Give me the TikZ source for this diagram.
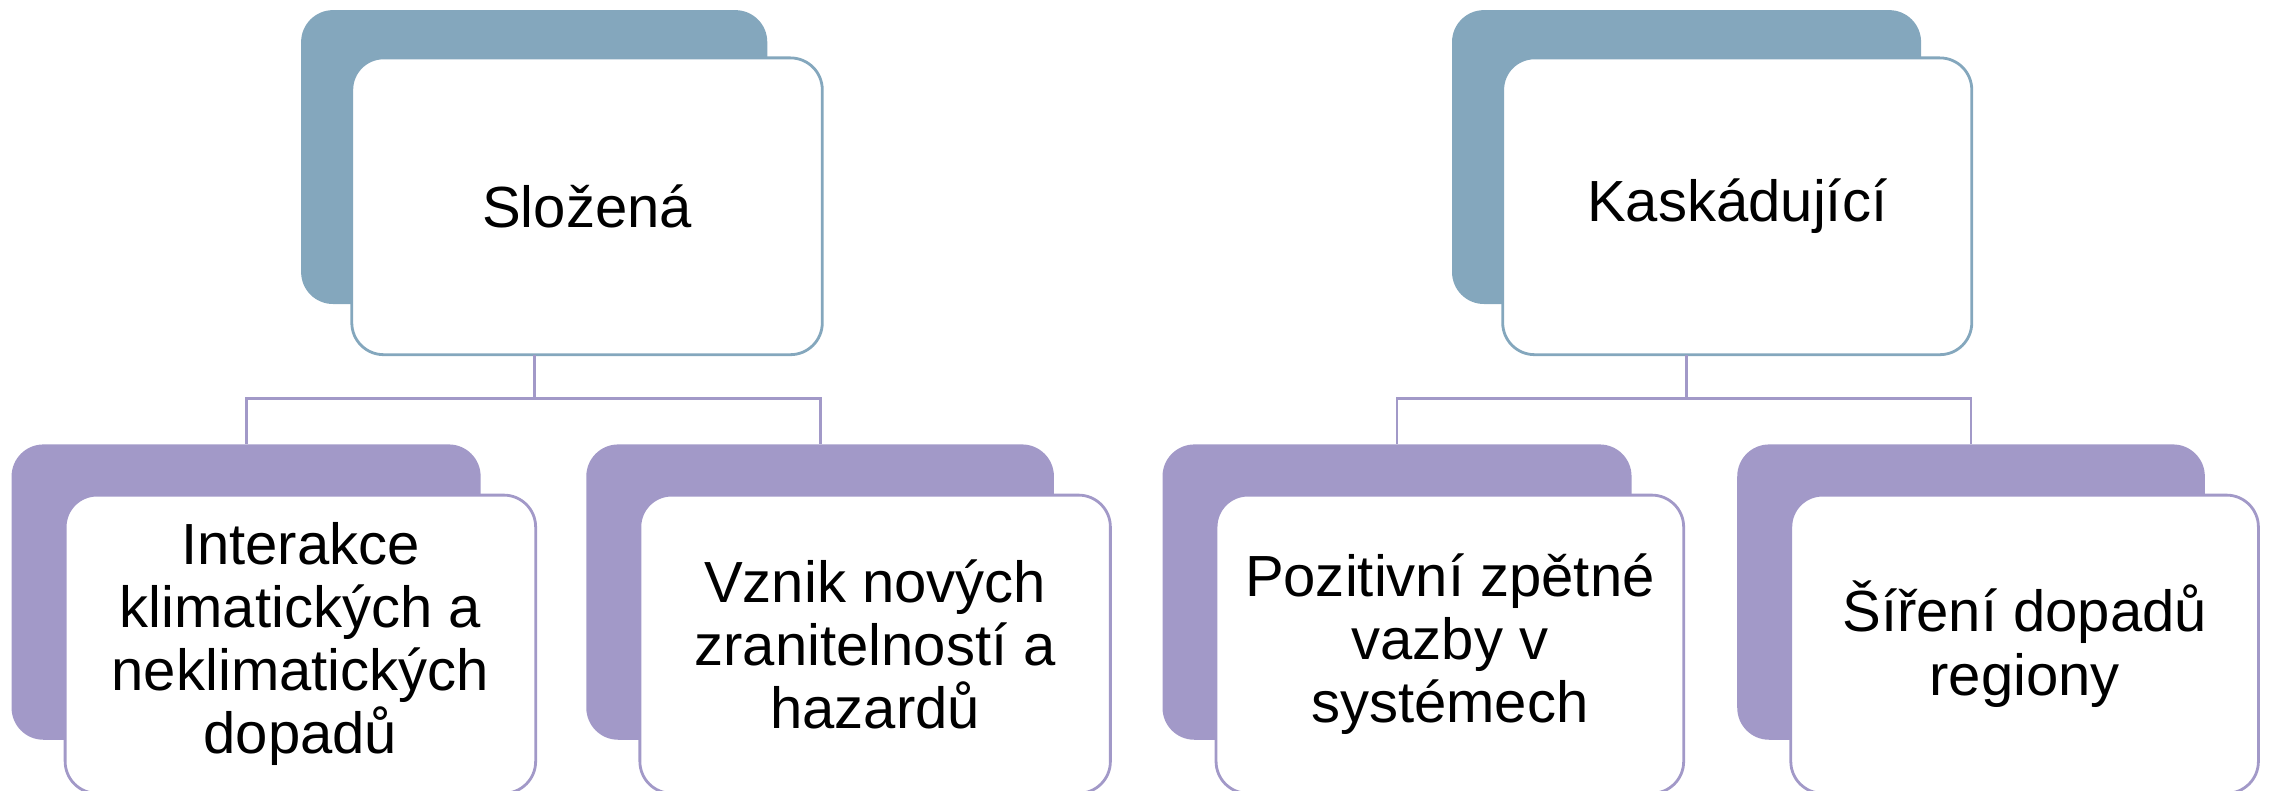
\documentclass[tikz,border=0pt]{standalone}
\usepackage{fontspec}
\setmainfont{Liberation Sans}
\definecolor{pblue}{HTML}{84A7BD}
\definecolor{plav}{HTML}{A299C8}
\tikzset{
  x=0.01cm, y=-0.01cm,
  backbox/.style={rounded corners=0.22cm},
  frontbox/.style={draw, fill=white, rounded corners=0.22cm, line width=0.55pt},
  lbl/.style={align=center, font=\fontsize{11.4pt}{12.4pt}\selectfont, inner sep=0pt},
  conn/.style={draw=plav, line width=0.55pt}
}
\begin{document}
\begin{tikzpicture}
\useasboundingbox (0,0) rectangle (1568,546);
\begin{scope}
\clip (0,0) rectangle (1568,546);
% parents
\fill[pblue, backbox] (208,7) rectangle (530,210);
\draw[frontbox, draw=pblue] (243,40) rectangle (568,245);
\node[lbl] (p1) at (405.5,142.5) {Složená};
\fill[pblue, backbox] (1003,7) rectangle (1327,210);
\draw[frontbox, draw=pblue] (1038,40) rectangle (1362,245);
\node[lbl] (p2) at (1200,142.5) {Kaskádující};
% children
\fill[plav, backbox] (8,307) rectangle (332,511);
\draw[frontbox, draw=plav] (45,342) rectangle (370,548);
\node[lbl] (c1) at (207.5,445) {Interakce\\klimatických a\\neklimatických\\dopadů};
\fill[plav, backbox] (405,307) rectangle (728,511);
\draw[frontbox, draw=plav] (442,342) rectangle (767,548);
\node[lbl] (c2) at (604.5,445) {Vznik nových\\zranitelností a\\hazardů};
\fill[plav, backbox] (803,307) rectangle (1127,511);
\draw[frontbox, draw=plav] (840,342) rectangle (1163,548);
\node[lbl] (c3) at (1001.5,445) {Pozitivní zpětné\\vazby v\\systémech};
\fill[plav, backbox] (1200,307) rectangle (1523,511);
\draw[frontbox, draw=plav] (1237,342) rectangle (1560,548);
\node[lbl] (c4) at (1398.5,445) {Šíření dopadů\\regiony};
% connector points
\coordinate (pa) at (369,245);
\coordinate (pb) at (1165,245);
\coordinate (ca) at (170,307);
\coordinate (cb) at (566.5,307);
\coordinate (cc) at (965,307);
\coordinate (cd) at (1361.5,307);
\draw[conn] (pa) -- (pa |- 0,275) -| (ca);
\draw[conn] (pa |- 0,275) -| (cb);
\draw[conn] (pb) -- (pb |- 0,275) -| (cc);
\draw[conn] (pb |- 0,275) -| (cd);
\end{scope}
\end{tikzpicture}
\end{document}
